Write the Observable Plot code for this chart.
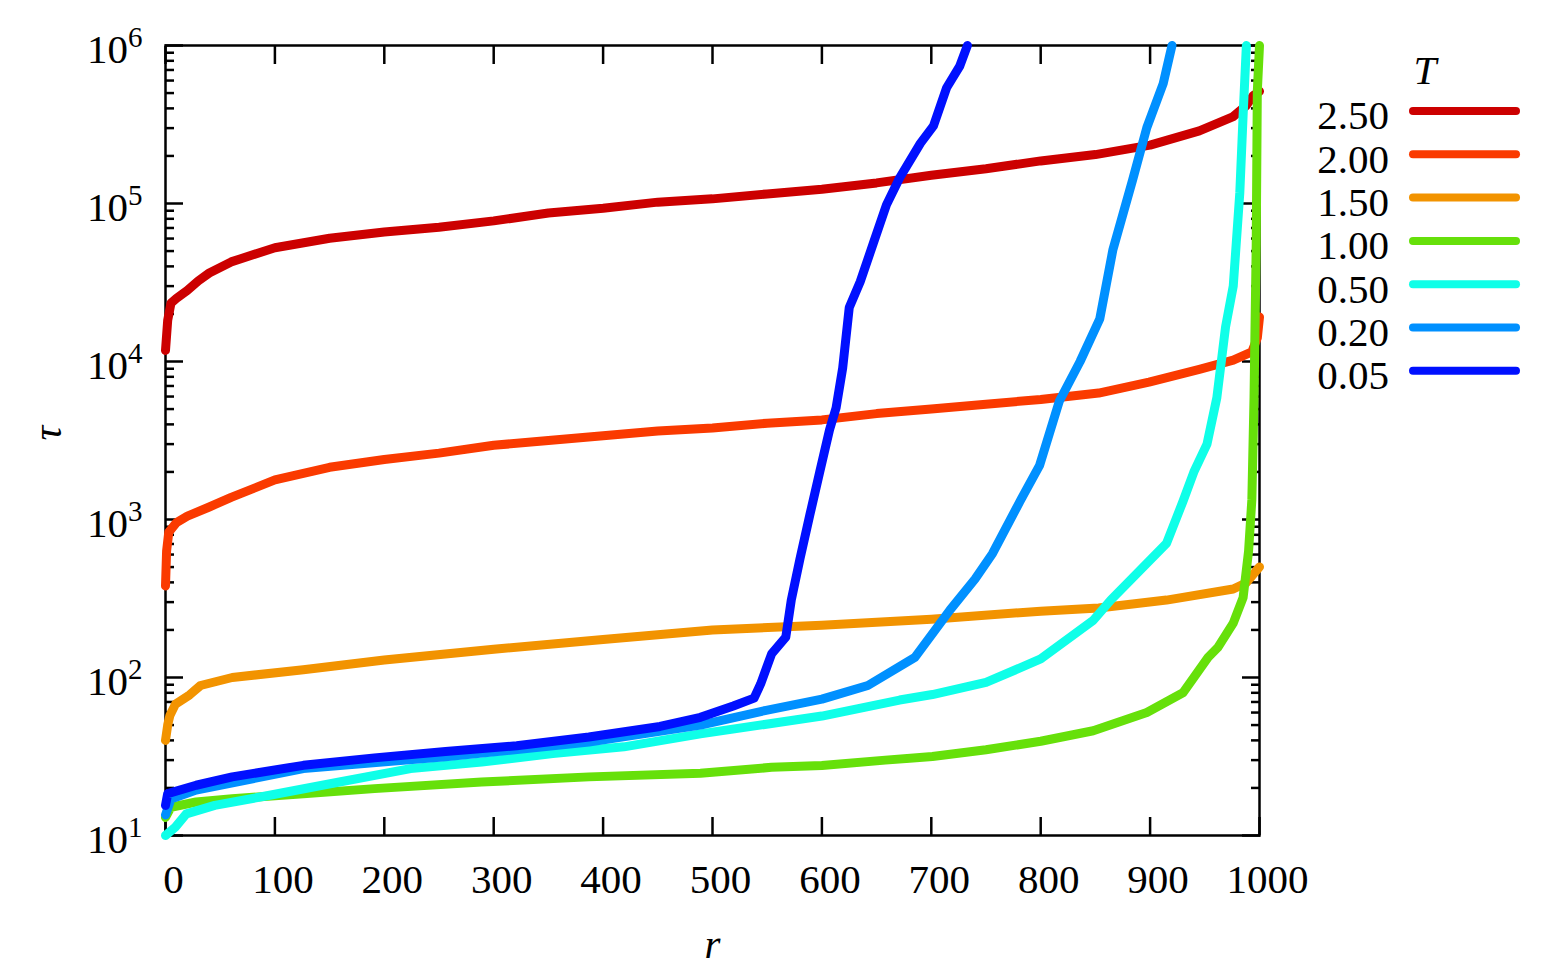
<!DOCTYPE html>
<html><head><meta charset="utf-8">
<script src="https://cdn.jsdelivr.net/npm/d3@7"></script>
<script src="https://cdn.jsdelivr.net/npm/@observablehq/plot@0.6"></script>
<style>
body{margin:0;background:#fff;}
#chart{width:1562px;height:976px;}
</style></head><body><div id="chart"></div>
<script>
// Legend categories and colours
const temps  = ["2.50","2.00","1.50","1.00","0.50","0.20","0.05"];
const colors = ["#cc0000","#fa3a00","#f29300","#66e00a","#0fffe8","#0090ff","#0010ff"];

// T = 2.50
const r250   = [0,2,5,10,20,30,40,60,100,150,200,250,300,350,400,450,500,550,600,650,700,750,800,850,900,945,976,988,994,1000];
const tau250 = [11750,18200,23400,25100,28200,32400,36300,42700,52500,60300,66100,70800,77600,87100,93300,102000,107000,115000,123000,135000,151000,166000,186000,204000,234000,288000,355000,417000,479000,513000];
// T = 2.00
const r200   = [0,1,3,10,20,40,60,100,150,200,250,300,350,400,450,500,550,600,650,700,750,800,853,899,945,976,993,998,1000];
const tau200 = [380,631,832,955,1050,1200,1380,1780,2140,2400,2630,2950,3160,3390,3630,3800,4070,4270,4680,5010,5370,5750,6310,7410,8910,10200,11500,14100,19100];
// T = 1.50
const r150   = [0,2,4,9,22,32,61,126,200,300,400,500,600,700,800,853,915,976,988,1000];
const tau150 = [40,50,57.5,67.6,77.6,89,100,112,129,151,174,200,214,234,263,275,309,363,398,501];
// T = 1.00
const r100   = [0,5,28,61,126,191,289,387,489,554,600,658,701,750,800,848,897,930,953,962,976,985,990,993,995,997,998,1000];
const tau100 = [13,15.1,16.3,17.1,18.4,19.8,21.8,23.5,24.8,27,27.7,30,31.6,34.9,39.5,46,60,80,134,155,221,320,630,1330,5900,55000,513000,1000000];
// T = 0.50
const r050   = [0,9,19,45,94,159,224,289,354,419,489,600,671,701,750,800,848,864,884,915,930,940,952,961,969,976,982,985,988];
const tau050 = [10,11.3,13.7,15.5,17.9,21.8,26.5,29.2,33,36.4,44,57,72,78,93,131,230,309,427,707,1300,2000,3000,5900,16600,30000,117000,360000,1000000];
// T = 0.20
const r020   = [0,5,28,126,256,387,489,549,600,642,685,717,740,756,781,799,817,836,854,866,884,897,912,920];
const tau020 = [13.5,17,19.4,26.5,31.5,39,50,62,73,89,134,267,420,610,1300,2200,5600,10000,18600,51000,141000,302000,575000,1000000];
// T = 0.05
const r005   = [0,2,28,61,126,191,256,321,387,452,489,519,538,544,554,567,572,580,589,598,607,613,619,625,635,647,659,671,690,702,714,726,733];
const tau005 = [15.5,18.4,20.8,23.5,27.8,31,34,37,42,49,56,66,74,91,141,180,309,566,1070,2000,3700,5100,9100,22000,32000,56000,98000,145000,240000,310000,540000,740000,1000000];

// Axis ticks
const xTicks = [0,100,200,300,400,500,600,700,800,900,1000];
const yMajor = [10,100,1000,10000,100000,1000000];
const yMinor = yMajor.slice(0,5).flatMap(p => [2,3,4,5,6,7,8,9].map(m => m*p));

const series = [[r250,tau250],[r200,tau200],[r150,tau150],[r100,tau100],[r050,tau050],[r020,tau020],[r005,tau005]];
const rows = [];
series.forEach(([rs,ts],i) => rs.forEach((r,j) => rows.push({T: temps[i], r, tau: ts[j]})));

const FONT = "'Liberation Serif', 'Times New Roman', serif";
const tickStyle = {strokeWidth: 2.5, label: null, tickFormat: () => ""};

const plot = Plot.plot({
  width: 1562, height: 976,
  marginLeft: 165, marginRight: 303, marginTop: 45, marginBottom: 141,
  style: {fontFamily: FONT, fontSize: "41px", color: "#000", background: "#fff"},
  x: {domain: [0,1000]},
  y: {type: "log", domain: [10, 1e6]},
  color: {domain: temps, range: colors},
  marks: [
    Plot.frame({stroke: "#000", strokeWidth: 2.5}),
    Plot.axisX({anchor: "bottom", ticks: xTicks, tickSize: -18, ...tickStyle}),
    Plot.axisX({anchor: "top", ticks: xTicks, tickSize: -18, ...tickStyle}),
    Plot.axisY({anchor: "left", ticks: yMajor, tickSize: -18, ...tickStyle}),
    Plot.axisY({anchor: "right", ticks: yMajor, tickSize: -18, ...tickStyle}),
    Plot.axisY({anchor: "left", ticks: yMinor, tickSize: -9, ...tickStyle}),
    Plot.axisY({anchor: "right", ticks: yMinor, tickSize: -9, ...tickStyle}),
    Plot.axisX({anchor: "bottom", ticks: xTicks, tickSize: 0, tickPadding: 28, dx: 8, label: null, fontSize: 41, tickFormat: d => String(d)}),
    Plot.axisY({anchor: "left", ticks: yMajor, tickSize: 0, tickPadding: 23, dy: 4, label: null, fontSize: 41,
      tickFormat: d => "10^" + Math.round(Math.log10(d))}),
    Plot.text(["r"], {frameAnchor: "bottom", dy: 122, fontStyle: "italic", fontSize: 41, fill: "#000"}),
    Plot.text(["τ"], {frameAnchor: "left", dx: -118, rotate: -90, fontStyle: "italic", fontSize: 41, fill: "#000"}),
    Plot.line(rows, {x: "r", y: "tau", z: "T", stroke: "T", strokeWidth: 9, strokeLinecap: "round", strokeLinejoin: "round"})
  ]
});

document.getElementById("chart").appendChild(plot);

// superscript exponents on y tick labels
d3.select(plot).selectAll('g[aria-label="y-axis tick label"] text').each(function() {
  const t = this.textContent;
  if (!t.includes("^")) return;
  const [b, e] = t.split("^");
  const sel = d3.select(this);
  sel.text(null);
  sel.append("tspan").text(b);
  sel.append("tspan").attr("dy", -16).attr("font-size", 29).text(e);
});

// legend in the right margin
const svg = d3.select(plot);
const lg = svg.append("g").attr("font-family", FONT).attr("font-size", 41);
lg.append("text").attr("x", 1425).attr("y", 70).attr("dy", "0.35em").attr("text-anchor", "middle")
  .attr("font-style", "italic").text("T");
temps.forEach((t, i) => {
  const y = 111 + 43.3 * i;
  lg.append("text").attr("x", 1389).attr("y", y + 4).attr("dy", "0.35em").attr("text-anchor", "end").text(t);
  lg.append("line").attr("x1", 1413).attr("x2", 1516).attr("y1", y).attr("y2", y)
    .attr("stroke", colors[i]).attr("stroke-width", 8).attr("stroke-linecap", "round");
});
</script></body></html>
